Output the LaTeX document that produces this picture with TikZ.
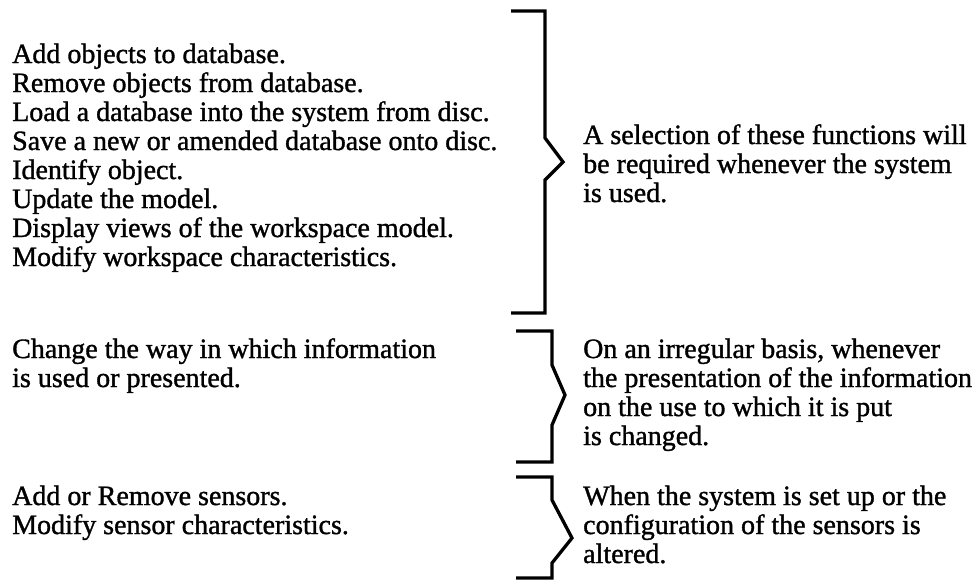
\documentclass[tikz,border=0pt]{standalone}
\usepackage{fontspec}
\setmainfont{Liberation Serif}[FakeBold=1.2]
\tikzset{
  txt/.style={anchor=base west, inner sep=0pt,
              font=\fontsize{28}{29}\selectfont},
  brace/.style={line width=3.3pt, line join=miter, line cap=butt}
}
% a block of ragged-right lines whose base is its first baseline
\newcommand{\textblock}[2]{\parbox[t]{#1}{\raggedright #2}}
\begin{document}
\begin{tikzpicture}[x=1pt,y=-1pt]
\useasboundingbox (0,0) rectangle (979,582);

% left column: the functions
\node[txt] (fn1) at (12,63) {\textblock{540pt}{Add objects to database.\\
Remove objects from database.\\
Load a database into the system from disc.\\
Save a new or amended database onto disc.\\
Identify object.\\
Update the model.\\
Display views of the workspace model.\\
Modify workspace characteristics.}};
\node[txt] (fn2) at (12,358) {\textblock{540pt}{Change the way in which information\\
is used or presented.}};
\node[txt] (fn3) at (12,505) {\textblock{540pt}{Add or Remove sensors.\\
Modify sensor characteristics.}};

% right column: when they are needed
\node[txt] (use1) at (583,144) {\textblock{420pt}{A selection of these functions will\\
be required whenever the system\\
is used.}};
\node[txt] (use2) at (583,358) {\textblock{420pt}{On an irregular basis, whenever\\
the presentation of the information\\
on the use to which it is put\\
is changed.}};
\node[txt] (use3) at (583,505) {\textblock{420pt}{When the system is set up or the\\
configuration of the sensors is\\
altered.}};

% braces grouping each set of functions
\draw[brace] (511,11) -- (545,11) -- (545,138) -- (563,162) -- (545,180) -- (545,313) -- (511,313);
\draw[brace] (516,331) -- (552,331) -- (552,365) -- (565,395) -- (552,425) -- (552,462) -- (516,462);
\draw[brace] (516,477) -- (552,477) -- (552,500) -- (572,538) -- (552,563) -- (552,578) -- (516,578);
\end{tikzpicture}
\end{document}
